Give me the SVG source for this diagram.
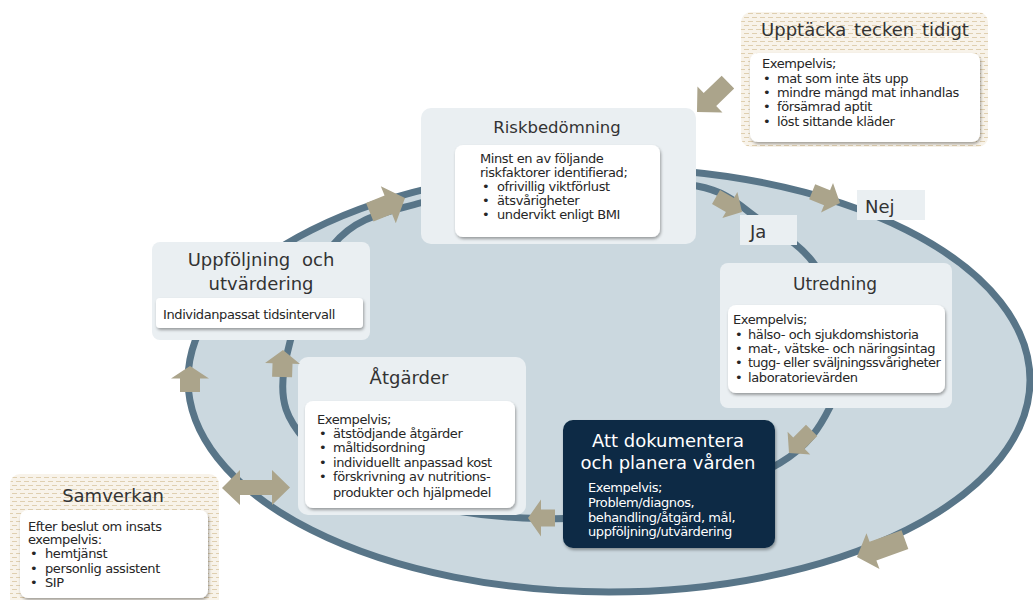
<svg xmlns="http://www.w3.org/2000/svg" width="1033" height="600" viewBox="0 0 1033 600">
<defs>
<pattern id="beige" width="8" height="8" patternUnits="userSpaceOnUse">
<rect width="8" height="8" fill="#f8f3ea"/>
<line x1="0" y1="1.5" x2="5" y2="1.5" stroke="#dfcfb0" stroke-width="1"/>
<line x1="4" y1="5.5" x2="9" y2="5.5" stroke="#dfcfb0" stroke-width="1"/>
<line x1="-4" y1="5.5" x2="1" y2="5.5" stroke="#dfcfb0" stroke-width="1"/>
</pattern>
<filter id="sh" x="-10%" y="-10%" width="120%" height="130%">
<feDropShadow dx="1" dy="2" stdDeviation="1.5" flood-color="#000" flood-opacity="0.35"/>
</filter>
</defs>
<style>
.lbox{fill:#eaeff2}
.wbox{fill:#ffffff;filter:url(#sh)}
.bbox{fill:url(#beige)}
.ttl{font-family:"DejaVu Sans",sans-serif;fill:#333333;text-anchor:middle}
.txt{font-family:"DejaVu Sans",sans-serif;font-size:13px;letter-spacing:-0.4px;fill:#262626}
.wt{fill:#ffffff}
.arr{fill:#aba48b}
.loop{fill:none;stroke:#587588;stroke-width:7}
</style>

<g id="background">
<ellipse cx="609" cy="380" rx="421" ry="212" fill="#cbd8df" stroke="#587588" stroke-width="7"/>
<path class="loop" d="M284,370 C288.7,337.5 310.3,272.8 333,245 C355.7,217.2 382.2,213.5 420,203 C457.8,192.5 513.8,184.8 560,182 C606.2,179.2 663.7,179.7 697,186 C730.3,192.3 740.3,206.8 760,220 C779.7,233.2 801.3,245 815,265 C828.7,285 839.5,316.3 842,340 C844.5,363.7 840.3,386.5 830,407 C819.7,427.5 808.3,446.2 780,463 C751.7,479.8 702.8,498.8 660,508 C617.2,517.2 568,520.2 523,518 C478,515.8 426.3,508 390,495 C353.7,482 322.7,460.8 305,440 C287.3,419.2 279.3,402.5 284,370 Z"/>
</g>

<g id="upptacka">
<rect class="bbox" x="741" y="12" width="247" height="135" rx="10"/>
<text class="ttl" x="865" y="36" font-size="18" word-spacing="2">Upptäcka tecken tidigt</text>
<rect class="wbox" x="750" y="53" width="230" height="89" rx="8"/>
<text class="txt" x="762" y="68">Exempelvis;</text>
<text class="txt" x="763" y="82.5">•</text><text class="txt" x="777" y="82.5">mat som inte äts upp</text>
<text class="txt" x="763" y="97">•</text><text class="txt" x="777" y="97">mindre mängd mat inhandlas</text>
<text class="txt" x="763" y="111">•</text><text class="txt" x="777" y="111">försämrad aptit</text>
<text class="txt" x="763" y="125.5">•</text><text class="txt" x="777" y="125.5">löst sittande kläder</text>
</g>

<g id="riskbedomning">
<rect class="lbox" x="421" y="108" width="275" height="136" rx="10"/>
<text class="ttl" x="557" y="133" font-size="16.5">Riskbedömning</text>
<rect class="wbox" x="455" y="145" width="205" height="92" rx="8"/>
<text class="txt" x="480" y="163">Minst en av följande</text>
<text class="txt" x="480" y="177">riskfaktorer identifierad;</text>
<text class="txt" x="482" y="191">•</text><text class="txt" x="497" y="191">ofrivillig viktförlust</text>
<text class="txt" x="482" y="205">•</text><text class="txt" x="497" y="205">ätsvårigheter</text>
<text class="txt" x="482" y="219">•</text><text class="txt" x="497" y="219">undervikt enligt BMI</text>
</g>

<g id="uppfoljning">
<rect class="lbox" x="152" y="242" width="218" height="98" rx="8"/>
<text class="ttl" x="261" y="266" font-size="18" word-spacing="6">Uppföljning och</text>
<text class="ttl" x="261" y="290" font-size="18">utvärdering</text>
<rect class="wbox" x="156" y="298" width="207" height="30" rx="4"/>
<text class="txt" x="163" y="319">Individanpassat tidsintervall</text>
</g>

<g id="utredning">
<rect class="lbox" x="720" y="263" width="232" height="145" rx="8"/>
<text class="ttl" x="835" y="290" font-size="17">Utredning</text>
<rect class="wbox" x="728" y="305" width="217" height="88" rx="8"/>
<text class="txt" x="733" y="324">Exempelvis;</text>
<text class="txt" x="735" y="339">•</text><text class="txt" x="748" y="339">hälso- och sjukdomshistoria</text>
<text class="txt" x="735" y="353">•</text><text class="txt" x="748" y="353">mat-, vätske- och näringsintag</text>
<text class="txt" x="735" y="367">•</text><text class="txt" x="748" y="367" style="letter-spacing:-0.55px">tugg- eller sväljningssvårigheter</text>
<text class="txt" x="735" y="382">•</text><text class="txt" x="748" y="382">laboratorievärden</text>
</g>

<g id="atgarder">
<rect class="lbox" x="298" y="357" width="228" height="158" rx="10"/>
<text class="ttl" x="409" y="384" font-size="18">Åtgärder</text>
<rect class="wbox" x="305" y="401" width="210" height="107" rx="8"/>
<text class="txt" x="317" y="424">Exempelvis;</text>
<text class="txt" x="319" y="438">•</text><text class="txt" x="333" y="438">ätstödjande åtgärder</text>
<text class="txt" x="319" y="452">•</text><text class="txt" x="333" y="452">måltidsordning</text>
<text class="txt" x="319" y="466.5">•</text><text class="txt" x="333" y="466.5">individuellt anpassad kost</text>
<text class="txt" x="319" y="481">•</text><text class="txt" x="333" y="481">förskrivning av nutritions-</text>
<text class="txt" x="333" y="496.5">produkter och hjälpmedel</text>
</g>

<g id="dokumentera">
<rect x="563" y="420" width="212" height="128" rx="10" fill="#0c2c45" filter="url(#sh)"/>
<text class="ttl wt" x="668" y="447" font-size="18">Att dokumentera</text>
<text class="ttl wt" x="668" y="469" font-size="18">och planera vården</text>
<text class="txt wt" x="588" y="492">Exempelvis;</text>
<text class="txt wt" x="588" y="507">Problem/diagnos,</text>
<text class="txt wt" x="588" y="522">behandling/åtgärd, mål,</text>
<text class="txt wt" x="588" y="536">uppföljning/utvärdering</text>
</g>

<g id="samverkan">
<rect class="bbox" x="10" y="474" width="209" height="140" rx="10"/>
<text class="ttl" x="113" y="502" font-size="18">Samverkan</text>
<rect class="wbox" x="20" y="510" width="188" height="88" rx="8"/>
<text class="txt" x="28" y="531">Efter beslut om insats</text>
<text class="txt" x="28" y="544">exempelvis:</text>
<text class="txt" x="30" y="558">•</text><text class="txt" x="45" y="558">hemtjänst</text>
<text class="txt" x="30" y="573">•</text><text class="txt" x="45" y="573">personlig assistent</text>
<text class="txt" x="30" y="587">•</text><text class="txt" x="45" y="587">SIP</text>
</g>

<g id="label-ja">
<rect class="lbox" x="740" y="215" width="57" height="30"/>
<text class="ttl" x="750" y="238" font-size="18" style="text-anchor:start">Ja</text>
</g>
<g id="label-nej">
<rect class="lbox" x="857" y="190" width="68" height="30"/>
<text class="ttl" x="865" y="213" font-size="18" style="text-anchor:start">Nej</text>
</g>

<g id="connectors">
<polygon class="arr" points="-43,-9 -18,-9 -18,-18 0,0 -18,18 -18,9 -43,9" transform="translate(697,112) rotate(136)"/>
<polygon class="arr" points="-30,-8 -14,-8 -14,-15 0,0 -14,15 -14,8 -30,8" transform="translate(742,212) rotate(30)"/>
<polygon class="arr" points="-30,-8 -14,-8 -14,-16 0,0 -14,16 -14,8 -30,8" transform="translate(840,203) rotate(22)"/>
<polygon class="arr" points="-32,-8 -14,-8 -14,-16 0,0 -14,16 -14,8 -32,8" transform="translate(789,453) rotate(135)"/>
<polygon class="arr" points="-51,-10 -17,-10 -17,-19 0,0 -17,19 -17,10 -51,10" transform="translate(857,557) rotate(160)"/>
<polygon class="arr" points="-27,-8.5 -13,-8.5 -13,-18.5 0,0 -13,18.5 -13,8.5 -27,8.5" transform="translate(528,518) rotate(180)"/>
<polygon class="arr" points="-26,-10 -12.5,-10 -12.5,-19 0,0 -12.5,19 -12.5,10 -26,10" transform="translate(190,366) rotate(-90)"/>
<polygon class="arr" points="-27,-10 -13.5,-10 -13.5,-17.5 0,0 -13.5,17.5 -13.5,10 -27,10" transform="translate(283,350) rotate(-88)"/>
<polygon class="arr" points="-38,-10 -18,-10 -18,-20 0,0 -18,20 -18,10 -38,10" transform="translate(405,198) rotate(-22)"/>
<polygon class="arr" points="222,488 240,470 240,480 272,480 272,470 290,487.5 272,505 272,495 240,495 240,505"/>
</g>
</svg>
